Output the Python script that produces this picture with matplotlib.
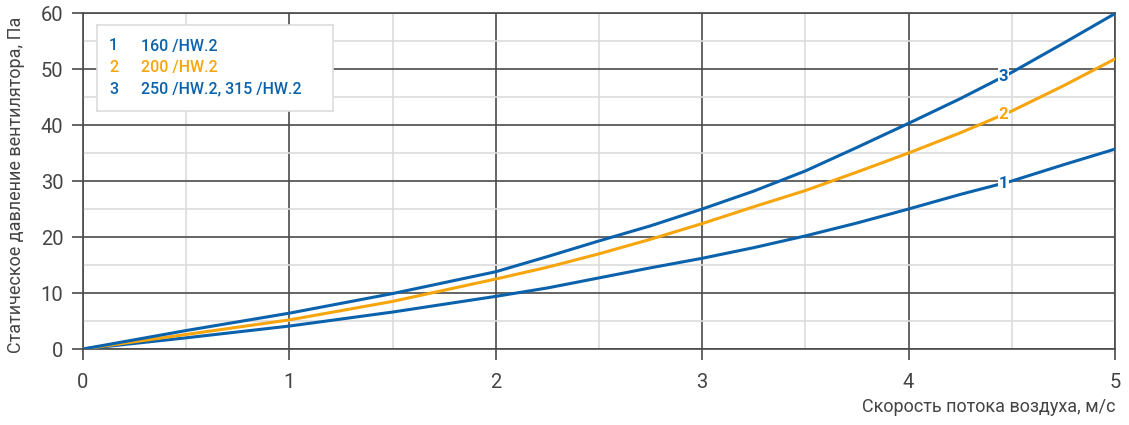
import numpy as np
import matplotlib
matplotlib.use("Agg")
import matplotlib.pyplot as plt

plt.rcParams['font.family'] = ['Roboto', 'DejaVu Sans']

# Airflow speed, m/s
speed = [0, 0.5, 1, 1.5, 2, 2.25, 2.5, 2.75, 3, 3.25, 3.5, 3.75, 4, 4.25, 4.5, 4.75, 5]
# Static pressure, Pa
p1 = [0, 2.0, 4.1, 6.6, 9.4, 10.9, 12.7, 14.5, 16.2, 18.1, 20.2, 22.5, 25.0, 27.6, 30.0, 32.9, 35.7]
p2 = [0, 2.6, 5.2, 8.5, 12.5, 14.6, 17.0, 19.6, 22.4, 25.4, 28.3, 31.6, 35.0, 38.6, 42.5, 47.0, 51.8]
p3 = [0, 3.3, 6.4, 9.9, 13.8, 16.5, 19.3, 22.0, 25.0, 28.2, 31.8, 36.0, 40.3, 44.7, 49.4, 54.6, 59.9]

names = ['160 /HW.2', '200 /HW.2', '250 /HW.2, 315 /HW.2']
labels = ['1', '2', '3']
label_x = 4.46

blue = '#0b62ac'
orange = '#f7a50c'
txt = '#444444'
grid_dark = '#4a4a4a'
grid_light = '#dcdcdc'

fig = plt.figure(figsize=(11.29, 4.25), dpi=100)
ax = fig.add_axes([0.0735, 0.1788, 0.9141, 0.7906])

series = [(p1, blue), (p2, orange), (p3, blue)]
for (vals, col), lab in zip(series, labels):
    ax.plot(speed, vals, color=col, lw=2.2, solid_capstyle='round', zorder=3)
    yl = np.interp(label_x, speed, vals)
    ax.text(label_x, yl, lab, color=col, fontsize=12, fontweight='bold',
            ha='center', va='center', zorder=4,
            bbox=dict(boxstyle='square,pad=0.05', fc='white', ec='none'))

ax.set_xlim(0, 5)
ax.set_ylim(0, 60)
ax.set_xticks(np.arange(0, 6, 1))
ax.set_yticks(np.arange(0, 70, 10))
ax.set_xticks(np.arange(0.5, 5, 1), minor=True)
ax.set_yticks(np.arange(5, 60, 10), minor=True)
ax.grid(which='major', color=grid_dark, lw=1.2, zorder=1)
ax.grid(which='minor', color=grid_light, lw=1.2, zorder=0)
ax.tick_params(which='minor', length=0)
ax.tick_params(which='major', direction='out', length=8, width=1.2,
               color=grid_dark, labelsize=14.5, labelcolor=txt)
ax.tick_params(axis='x', pad=9)
ax.tick_params(axis='y', pad=6)
for s in ax.spines.values():
    s.set_color(grid_dark)
    s.set_linewidth(1.2)

ax.set_xlabel('Скорость потока воздуха, м/с', fontsize=13, color=txt)
ax.xaxis.set_label_coords(1.0, -0.145)
ax.xaxis.label.set_horizontalalignment('right')
ax.set_ylabel('Статическое давление вентилятора, Па', fontsize=13, color=txt)
ax.yaxis.set_label_coords(-0.056, 0.49)

# legend box
leg_ax = fig.add_axes([97 / 1129, 1 - 111 / 425, 236 / 1129, 86 / 425])
leg_ax.set_xlim(0, 236)
leg_ax.set_ylim(86, 0)
leg_ax.set_xticks([])
leg_ax.set_yticks([])
for s in leg_ax.spines.values():
    s.set_color('#dddddd')
    s.set_linewidth(1.2)
leg_cols = [blue, orange, blue]
for i, (lab, name, col) in enumerate(zip(labels, names, leg_cols)):
    yy = 21 + i * 21.5
    leg_ax.text(12, yy, lab, color=col, fontsize=11.5, fontweight='medium',
                ha='left', va='center')
    leg_ax.text(44, yy, name, color=col, fontsize=11.5, fontweight='medium',
                ha='left', va='center')

fig.savefig('out.png', dpi=100)
